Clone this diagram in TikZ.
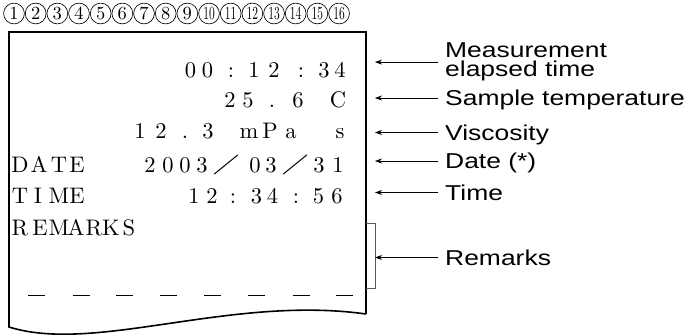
\documentclass[tikz,border=0pt]{standalone}
\usepackage{fontspec}
\usepackage{graphicx}
\usetikzlibrary{arrows.meta}
\newfontfamily\labfont[FakeStretch=1.23]{Liberation Sans}
\newfontfamily\lcdfont{lmroman10-regular.otf}
\newcommand\fwslash{\rotatebox[origin=c]{-31}{\scalebox{1.3}{/}}}
\begin{document}
\begin{tikzpicture}[x=1pt,y=-1pt,
  lcd/.style={inner sep=0pt, anchor=base, font=\lcdfont\fontsize{22.5}{27}\selectfont},
  circ/.style={circle, draw, line width=0.65pt, minimum size=20.8pt, inner sep=0pt, font=\lcdfont\fontsize{18.5}{20}\selectfont},
  lab/.style={inner sep=0pt, anchor=west, font=\labfont\fontsize{21.5}{19}\selectfont, text height=15.4pt, text depth=0pt},
  lab2/.style={inner sep=0pt, anchor=north west, align=left, font=\labfont\fontsize{21.5}{19.5}\selectfont},
  arr/.style={-{Stealth[length=7pt,width=5pt]}, line width=0.8pt},
  paper/.style={line width=1.6pt, line join=miter},
  bracket/.style={line width=0.7pt, draw=black!65},
  dashline/.style={line width=0.9pt}
  ]
\useasboundingbox (0,0) rectangle (697,335);

% column numbers
\foreach \i in {1,...,9}
  \node[circ] (n\i) at ({14+(\i-1)*21.67},13.5) {\i};
\foreach \i in {10,...,16}
  \node[circ] (n\i) at ({14+(\i-1)*21.67},13.5) {\scalebox{0.62}[1]{\i}};

% paper
\draw[paper] (366,314) -- (366,32) -- (9,32) -- (9,327)
  .. controls (95,354) and (230,295) .. (366,314);

% row 1
\foreach \x/\c [count=\k] in {190.5/0,207.5/0,231/:,254/1,274/2,301/:,324/3,340/4}
  \node[lcd] (ra\k) at (\x,77) {\c};
% row 2
\foreach \x/\c [count=\k] in {230/2,248/5,272/.,298/6,338/C}
  \node[lcd] (rb\k) at (\x,107) {\c};
% row 3
\foreach \x/\c [count=\k] in {140/1,161/2,185/.,208/3,249/m,270/P,291/a,340/s}
  \node[lcd] (rc\k) at (\x,138.5) {\c};
% row 4
\foreach \x/\c [count=\k] in {20/D,39/A,59/T,77/E,150/2,168/0,185/0,202/3,227/\fwslash,255/0,271/3,296/\fwslash,319/3,338/1}
  \node[lcd] (rd\k) at (\x,172) {\c};
% row 5
\foreach \x/\c [count=\k] in {20/T,38/I,59/M,77/E,194/1,212/2,233/:,256.5/3,272.5/4,296/:,318.5/5,337/6}
  \node[lcd] (re\k) at (\x,203) {\c};
% row 6
\foreach \x/\c [count=\k] in {20/R,40/E,59/M,76/A,94/R,111/K,129/S}
  \node[lcd] (rf\k) at (\x,235) {\c};

% dashes
\foreach \x in {36.5,81,124.5,168.5,212.5,256.5,301,344}
  \draw[dashline] (\x-8.5,295) -- (\x+8.5,295);

% remarks bracket
\draw[bracket] (366,223) -- (375,223) -- (375,288) -- (366,288);

% labels
\node[lab2] (l1) at (445,42.5) {Measurement\\elapsed time};
\node[lab] (l2) at (445,98) {Sample temperature};
\node[lab] (l3) at (445,132.5) {Viscosity};
\node[lab] (l4) at (445,161) {Date (*)};
\node[lab] (l5) at (445,192.5) {Time};
\node[lab] (l6) at (445,257.5) {Remarks};

\coordinate (t1) at (375,62.5);
\coordinate (t2) at (375,98);
\coordinate (t3) at (375,132.5);
\coordinate (t4) at (375,161);
\coordinate (t5) at (375,192.5);
\coordinate (t6) at (375,257.5);

\draw[arr] ([xshift=-7pt]l1.west) -- (t1|-l1.west);
\foreach \i in {2,...,6}
  \draw[arr] ([xshift=-7pt]l\i.west) -- (t\i);
\end{tikzpicture}
\end{document}
